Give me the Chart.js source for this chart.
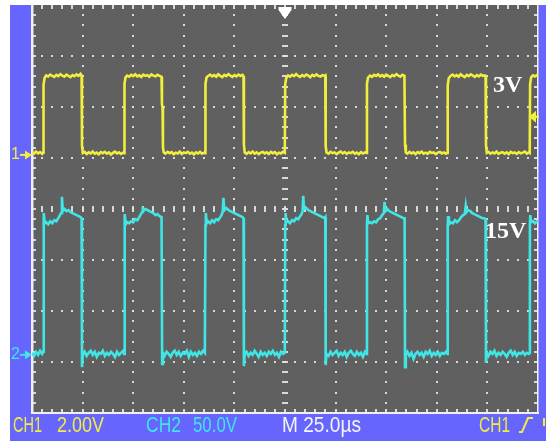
<!DOCTYPE html>
<html><head><meta charset="utf-8">
<script src="https://cdn.jsdelivr.net/npm/chart.js@4.4.1/dist/chart.umd.min.js"></script>
<style>html,body{margin:0;padding:0;background:#fff;}canvas{display:block}</style>
</head><body>
<canvas id="c" width="546" height="441"></canvas>
<script>
// ---- data (time in µs, 25 µs/div; CH1 volts at 2 V/div; CH2 volts at 50 V/div) ----
const timeWindow = [0, 250];
const ch1VoltsPerDiv = 2;
const ch2VoltsPerDiv = 50;
const ch1GroundDiv = 1.06;   // CH1 ground marker, divisions above centre
const ch2GroundDiv = -2.86;  // CH2 ground marker
const ch1Trace = [
[0,0.1],[1,0.05],[2,0.13],[3,0.06],[4,0.11],[5,0.04],[5.5,0.09],
[5.7,2.75],[6.2,3.02],[7,3.12],[8,3.08],[9,3.15],[10,3.1],[11,3.06],[12,3.14],[13,3.09],[14,3.17],[15,3.11],[16,3.07],[17,3.15],[18,3.1],[19,3.05],[20,3.13],[21,3.09],[22,3.16],[23,3.1],[24,3.18],[24.5,3.12],
[24.7,0.35],[25.1,0.08],[26,0.12],[27,0.04],[28,0.1],[29,0.06],[30,0.13],[31,0.05],[32,0.09],[33,0.03],[34,0.11],[35,0.07],[36,0.12],[37,0.05],[38,0.1],[39,0.02],[40,0.08],[41,0.13],[42,0.06],[43,0.1],[44,0.04],[45,0.09],[45.5,0.07],
[45.7,2.8],[46.2,3.04],[47,3.11],[48,3.07],[49,3.14],[50,3.09],[51,3.16],[52,3.08],[53,3.12],[54,3.06],[55,3.15],[56,3.1],[57,3.13],[58,3.07],[59,3.16],[60,3.11],[61,3.08],[62,3.14],[63,3.1],[64,3.06],
[64.2,2.0],[64.5,1.85],[64.7,0.3],[65.1,0.1],[66,0.05],[67,0.12],[68,0.07],[69,0.11],[70,0.03],[71,0.09],[72,0.06],[73,0.13],[74,0.04],[75,0.1],[76,0.07],[77,0.12],[78,0.05],[79,0.09],[80,0.02],[81,0.1],[82,0.06],[83,0.12],[84,0.05],[85,0.09],[85.5,0.07],
[85.7,2.78],[86.2,3.03],[87,3.1],[88,3.15],[89,3.08],[90,3.13],[91,3.07],[92,3.16],[93,3.1],[94,3.05],[95,3.14],[96,3.09],[97,3.17],[98,3.11],[99,3.06],[100,3.13],[101,3.08],[102,3.15],[103,3.1],[104,3.14],[104.5,3.09],
[104.7,0.4],[105.1,0.09],[106,0.04],[107,0.11],[108,0.06],[109,0.13],[110,0.05],[111,0.1],[112,0.03],[113,0.09],[114,0.12],[115,0.06],[116,0.1],[117,0.04],[118,0.12],[119,0.07],[120,0.11],[121,0.03],[122,0.09],[123,0.06],[124,0.12],[124.9,0.08],
[125.1,2.76],[125.6,3.02],[126.5,3.12],[127.5,3.07],[128.5,3.14],[129.5,3.09],[130.5,3.17],[131.5,3.1],[132.5,3.06],[133.5,3.13],[134.5,3.08],[135.5,3.15],[136.5,3.11],[137.5,3.05],[138.5,3.14],[139.5,3.09],[140.5,3.16],[141.5,3.1],[142.5,3.07],[143.5,3.13],[144.5,3.1],[144.9,3.12],
[145.1,0.35],[145.5,0.1],[146.5,0.05],[147.5,0.12],[148.5,0.07],[149.5,0.1],[150.5,0.03],[151.5,0.09],[152.5,0.13],[153.5,0.06],[154.5,0.11],[155.5,0.04],[156.5,0.1],[157.5,0.07],[158.5,0.12],[159.5,0.05],[160.5,0.09],[161.5,0.03],[162.5,0.11],[163.5,0.06],[164.5,0.1],[165.3,0.08],
[165.5,2.8],[166,3.03],[167,3.11],[168,3.06],[169,3.14],[170,3.1],[171,3.16],[172,3.08],[173,3.13],[174,3.07],[175,3.15],[176,3.1],[177,3.05],[178,3.13],[179,3.09],[180,3.17],[181,3.11],[182,3.07],[183,3.14],[184,3.1],
[184.3,0.4],[184.7,0.09],[185.5,0.05],[186.5,0.12],[187.5,0.06],[188.5,0.1],[189.5,0.03],[190.5,0.11],[191.5,0.07],[192.5,0.13],[193.5,0.05],[194.5,0.09],[195.5,0.04],[196.5,0.12],[197.5,0.08],[198.5,0.1],[199.5,0.03],[200.5,0.09],[201.5,0.12],[202.5,0.06],[203.5,0.1],[204.5,0.05],[205.2,0.08],
[205.4,2.74],[205.9,3.01],[206.8,3.1],[207.8,3.15],[208.8,3.08],[209.8,3.13],[210.8,3.07],[211.8,3.16],[212.8,3.1],[213.8,3.05],[214.8,3.14],[215.8,3.09],[216.8,3.16],[217.8,3.11],[218.8,3.06],[219.8,3.13],[220.8,3.08],[221.8,3.15],[222.8,3.1],[223.8,3.12],[224.1,3.08],
[224.3,0.38],[224.7,0.08],[225.5,0.12],[226.5,0.05],[227.5,0.1],[228.5,0.06],[229.5,0.13],[230.5,0.04],[231.5,0.09],[232.5,0.11],[233.5,0.05],[234.5,0.1],[235.5,0.03],[236.5,0.12],[237.5,0.07],[238.5,0.1],[239.5,0.04],[240.5,0.11],[241.5,0.06],[242.5,0.09],[243.5,0.13],[244.5,0.05],[245.5,0.1],[245.9,0.08],
[246.1,2.78],[246.6,3.04],[247.5,3.12],[248.5,3.08],[249.5,3.14],[250,3.1]
];
const ch2Trace = [
[0,2],[1,-1],[2,3],[3,0],[4,4],[5,1],[5.5,3],
[5.7,128],[5.9,139],[6.3,129],[7,130],[8,128],[9,131],[10,129],[11,132],[12,131],[13,134],[13.8,137],[14.4,139],[14.8,155],[15.2,141],[16,143],[17,141],[18,142],[19,140],[20,139],[21,138],[22,137],[23,136],[24,135],[24.5,134],
[24.7,-12],[25.1,0],[26,3],[27,-1],[28,2],[29,4],[30,0],[31,3],[32,-2],[33,2],[34,1],[35,4],[36,-1],[37,2],[38,0],[39,3],[40,1],[41,-2],[42,3],[43,0],[44,2],[45,4],[45.5,1],
[45.7,126],[45.9,138],[46.3,128],[47,130],[48,129],[49,131],[50,130],[51,133],[52,132],[53,135],[53.8,138],[54.4,140],[54.7,145],[55.1,141],[56,143],[57,142],[58,141],[59,140],[60,139],[61,137],[62,138],[63,136],[64,135],
[64.3,-9],[64.7,2],[65.5,-1],[66.5,3],[67.5,1],[68.5,-2],[69.5,2],[70.5,4],[71.5,0],[72.5,3],[73.5,-1],[74.5,2],[75.5,1],[76.5,4],[77.5,-2],[78.5,3],[79.5,0],[80.5,2],[81.5,-1],[82.5,3],[83.5,1],[84.5,4],[85.4,2],
[85.7,127],[85.9,139],[86.3,129],[87,131],[88,129],[89,132],[90,130],[91,133],[92,132],[93,135],[93.6,137],[94.2,140],[94.6,154],[95,142],[96,144],[97,142],[98,141],[99,140],[100,139],[101,138],[102,137],[103,136],[104,135],[104.5,134],
[104.7,-11],[105.1,1],[106,3],[107,-1],[108,2],[109,0],[110,4],[111,1],[112,-2],[113,3],[114,0],[115,2],[116,-1],[117,3],[118,1],[119,4],[120,0],[121,2],[122,-2],[123,3],[124,1],[124.9,2],
[125.1,127],[125.3,139],[125.7,130],[126.5,131],[127.5,129],[128.5,132],[129.5,131],[130.5,134],[131.5,133],[132.5,136],[133.2,138],[133.7,141],[134,156],[134.4,143],[135.5,144],[136.5,142],[137.5,141],[138.5,140],[139.5,139],[140.5,138],[141.5,137],[142.5,136],[143.5,135],[144.5,134],[144.9,135],
[145.1,-10],[145.5,1],[146.5,-1],[147.5,3],[148.5,0],[149.5,2],[150.5,4],[151.5,-1],[152.5,2],[153.5,0],[154.5,3],[155.5,-2],[156.5,2],[157.5,4],[158.5,1],[159.5,-1],[160.5,3],[161.5,0],[162.5,2],[163.5,-2],[164.5,3],[165.3,1],
[165.5,128],[165.7,137],[166.1,129],[167,130],[168,129],[169,131],[170,130],[171,133],[172,134],[173,137],[173.8,139],[174.2,150],[174.6,141],[175.5,143],[176.5,141],[177.5,140],[178.5,139],[179.5,138],[180.5,137],[181.5,136],[182.5,135],[183.5,134],[184.1,134],
[184.3,-12],[184.7,0],[185.5,3],[186.5,-1],[187.5,2],[188.5,-4],[189.5,1],[190.5,3],[191.5,0],[192.5,2],[193.5,-2],[194.5,3],[195.5,1],[196.5,4],[197.5,-1],[198.5,2],[199.5,0],[200.5,3],[201.5,-1],[202.5,2],[203.5,1],[204.5,3],[205.2,1],
[205.4,127],[205.6,136],[206,128],[207,130],[208,129],[209,132],[210,130],[211,132],[212,135],[213,137],[213.8,138],[214.3,146],[214.7,140],[215.5,142],[216.5,141],[217.5,139],[218.5,138],[219.5,137],[220.5,136],[221.5,135],[222.5,134],[223.5,134],[224.1,133],
[224.3,-8],[224.7,2],[225.5,-1],[226.5,3],[227.5,1],[228.5,4],[229.5,-1],[230.5,2],[231.5,0],[232.5,3],[233.5,1],[234.5,-2],[235.5,2],[236.5,4],[237.5,0],[238.5,3],[239.5,-1],[240.5,2],[241.5,1],[242.5,3],[243.5,0],[244.5,2],[245.5,1],[245.9,2],
[246.0,128],[246.2,137],[246.6,130],[247.5,131],[248.5,129],[249.5,131],[250,130]
];
const traceLabels = ['3V', '15V'];
const footerTexts = ['CH1', '2.00V', 'CH2', '50.0V', 'M 25.0\u00b5s', 'CH1'];
const channelMarkers = ['1', '2'];

// ---- styles ----
const YELLOW = '#f2ee3c';
const CYAN = '#40e6e6';
const FRAME = '#6666ff';
const SCREEN = '#606060';
const GRID = 'rgba(228,228,228,0.92)';

const scopePlugin = {
  id: 'scope',
  beforeDraw(chart) {
    const ctx = chart.ctx, a = chart.chartArea;
    ctx.save();
    ctx.fillStyle = '#ffffff';
    ctx.fillRect(0, 0, chart.width, chart.height);
    ctx.fillStyle = FRAME;
    ctx.fillRect(10, a.top, chart.width - 10, chart.height - a.top);
    ctx.fillStyle = SCREEN;
    ctx.fillRect(a.left, a.top, a.right - a.left, a.bottom - a.top);
    ctx.restore();
  },
  beforeDatasetsDraw(chart) {
    const ctx = chart.ctx, a = chart.chartArea;
    const xs = chart.scales.x, yd = chart.scales.yDiv;
    ctx.save();
    ctx.fillStyle = GRID;
    const xp = v => Math.round(xs.getPixelForValue(v));
    const yp = v => Math.round(yd.getPixelForValue(v));
    for (let i = 1; i < 10; i++) {
      if (i === 5) continue;
      const px = xp(i * 25);
      for (let k = 1; k < 40; k++) ctx.fillRect(px - 1, yp(-4 + k * 0.2) - 1, 2, 2);
    }
    for (let j = -3; j <= 3; j++) {
      if (j === 0) continue;
      const py = yp(j);
      for (let k = 1; k < 50; k++) ctx.fillRect(xp(k * 5) - 1, py - 1, 2, 2);
    }
    const cx = xp(125), cy = yp(0);
    for (let k = 1; k < 40; k++) ctx.fillRect(cx - 3, yp(-4 + k * 0.2) - 1, 6, 2);
    for (let k = 1; k < 50; k++) ctx.fillRect(xp(k * 5) - 1, cy - 3, 2, 6);
    for (let k = 1; k < 40; k++) {
      const py = yp(-4 + k * 0.2);
      ctx.fillRect(a.left, py - 1, 4, 2);
      ctx.fillRect(a.right - 4, py - 1, 4, 2);
    }
    for (let k = 1; k < 50; k++) {
      const px = xp(k * 5);
      ctx.fillRect(px - 1, a.top, 2, 4);
      ctx.fillRect(px - 1, a.bottom - 4, 2, 4);
    }
    ctx.fillStyle = '#eeeef6';
    ctx.fillRect(a.left - 1, a.top, 2.5, a.bottom - a.top + 1);
    ctx.fillRect(a.left - 1, a.bottom - 1, a.right - a.left + 2, 2);
    ctx.fillRect(a.right - 1, a.top, 1.5, a.bottom - a.top);
    ctx.restore();
  },
  afterDatasetsDraw(chart) {
    const ctx = chart.ctx, a = chart.chartArea;
    const xs = chart.scales.x, y1 = chart.scales.y1, y2 = chart.scales.y2;
    ctx.save();
    const tx = xs.getPixelForValue(125);
    ctx.fillStyle = '#ffffff';
    ctx.beginPath();
    ctx.moveTo(tx - 6.5, a.top + 2); ctx.lineTo(tx + 6.5, a.top + 2);
    ctx.lineTo(tx + 6.5, a.top + 5); ctx.lineTo(tx, a.top + 14);
    ctx.lineTo(tx - 6.5, a.top + 5); ctx.closePath(); ctx.fill();
    const ty = y1.getPixelForValue(1.5);
    ctx.fillStyle = YELLOW; ctx.strokeStyle = YELLOW; ctx.lineWidth = 2;
    ctx.beginPath(); ctx.moveTo(a.right - 9, ty); ctx.lineTo(a.right - 2, ty - 6); ctx.lineTo(a.right - 2, ty + 6); ctx.closePath(); ctx.fill();
    ctx.beginPath(); ctx.moveTo(a.right - 3, ty); ctx.lineTo(a.right + 1, ty); ctx.stroke();
    const marks = [[channelMarkers[0], y1.getPixelForValue(0), YELLOW], [channelMarkers[1], y2.getPixelForValue(0), CYAN]];
    marks.forEach(([t, py, col]) => {
      ctx.fillStyle = col; ctx.strokeStyle = col;
      ctx.font = '16px "Liberation Sans", sans-serif';
      ctx.textBaseline = 'middle'; ctx.textAlign = 'left';
      ctx.fillText(t, 11, py);
      ctx.lineWidth = 2;
      ctx.beginPath(); ctx.moveTo(20, py); ctx.lineTo(27, py); ctx.stroke();
      ctx.beginPath(); ctx.moveTo(32, py); ctx.lineTo(25, py - 4.5); ctx.lineTo(25, py + 4.5); ctx.closePath(); ctx.fill();
    });
    ctx.fillStyle = '#ffffff';
    ctx.font = 'bold 24px "Liberation Serif", serif';
    ctx.textBaseline = 'alphabetic'; ctx.textAlign = 'left';
    ctx.fillText(traceLabels[0], 493, 92);
    ctx.fillText(traceLabels[1], 485, 238);
    const fit = (text, x, w, col) => {
      ctx.font = '22px "Liberation Sans", sans-serif';
      const m = ctx.measureText(text).width;
      ctx.save(); ctx.translate(x, 432); ctx.scale(w / m, 1);
      ctx.fillStyle = col; ctx.fillText(text, 0, 0); ctx.restore();
    };
    fit(footerTexts[0], 13, 29, YELLOW);
    fit(footerTexts[1], 57, 47, YELLOW);
    fit(footerTexts[2], 146, 35, CYAN);
    fit(footerTexts[3], 193, 44, CYAN);
    fit(footerTexts[4], 282, 79, '#f4f4f4');
    fit(footerTexts[5], 479, 31, YELLOW);
    ctx.strokeStyle = YELLOW; ctx.lineWidth = 2;
    ctx.beginPath(); ctx.moveTo(519, 432); ctx.lineTo(522, 432); ctx.lineTo(528, 418); ctx.lineTo(533, 418); ctx.stroke();
    ctx.beginPath(); ctx.moveTo(544, 418); ctx.lineTo(544, 426); ctx.stroke();
    ctx.restore();
  }
};

const toPts = tr => tr.map(([t, v]) => ({x: t, y: v}));

new Chart(document.getElementById('c'), {
  type: 'scatter',
  data: {
    datasets: [
      {label: 'CH1', data: toPts(ch1Trace), yAxisID: 'y1', showLine: true, borderColor: YELLOW, borderWidth: 2.6, pointRadius: 0, tension: 0},
      {label: 'CH2', data: toPts(ch2Trace), yAxisID: 'y2', showLine: true, borderColor: CYAN, borderWidth: 2.6, pointRadius: 0, tension: 0}
    ]
  },
  options: {
    responsive: false,
    animation: false,
    events: [],
    layout: {padding: {left: 32, right: 8, top: 5, bottom: 28}},
    plugins: {legend: {display: false}, tooltip: {enabled: false}},
    scales: {
      x: {type: 'linear', min: timeWindow[0], max: timeWindow[1], display: false},
      y1: {type: 'linear', axis: 'y', min: (-4 - ch1GroundDiv) * ch1VoltsPerDiv, max: (4 - ch1GroundDiv) * ch1VoltsPerDiv, display: false},
      y2: {type: 'linear', axis: 'y', min: (-4 - ch2GroundDiv) * ch2VoltsPerDiv, max: (4 - ch2GroundDiv) * ch2VoltsPerDiv, display: false},
      yDiv: {type: 'linear', axis: 'y', min: -4, max: 4, display: false}
    }
  },
  plugins: [scopePlugin]
});
</script>
</body></html>
